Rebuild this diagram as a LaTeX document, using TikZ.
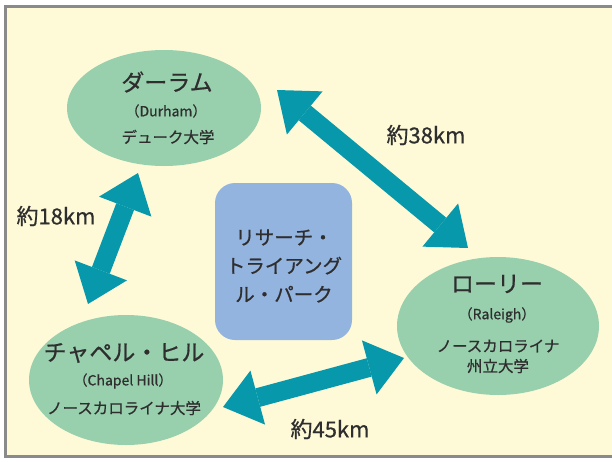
\documentclass[tikz,border=0pt]{standalone}
\usepackage{fontspec}
\setmainfont{Noto Sans CJK JP}[FakeBold=0.7]
\usetikzlibrary{arrows.meta,shapes.geometric}
\definecolor{bgcream}{HTML}{FEFAD8}
\definecolor{framegray}{HTML}{8A8A8A}
\definecolor{citygreen}{HTML}{98D0AE}
\definecolor{parkblue}{HTML}{94B4E0}
\definecolor{arrowteal}{HTML}{0799AB}
\definecolor{txt}{HTML}{2E2E2E}
\tikzset{
  city/.style={ellipse, fill=citygreen, inner sep=0pt},
  park/.style={rectangle, rounded corners=20pt, fill=parkblue, inner sep=0pt},
  bigname/.style={text=txt, font=\fontsize{23}{26}\selectfont, inner sep=0pt},
  smalltxt/.style={text=txt, font=\fontsize{15.5}{18}\selectfont, inner sep=0pt},
  latintxt/.style={text=txt, font=\fontsize{14}{16}\selectfont, inner sep=0pt},
  parktxt/.style={text=txt, font=\fontsize{19.5}{28.5}\selectfont, align=center, inner sep=0pt},
  disttxt/.style={text=txt, font=\fontsize{22}{24}\selectfont, inner sep=0pt},
  dist/.style={draw=arrowteal, line width=19pt,
    {Triangle[length=36pt,width=56pt,line width=0pt]}-{Triangle[length=36pt,width=56pt,line width=0pt]}}
}
\begin{document}
\begin{tikzpicture}[x=1pt,y=-1pt]
\clip (0,0) rectangle (612,461);
\fill[white] (0,0) rectangle (612,461);
\filldraw[fill=bgcream, draw=framegray, line width=2.5pt] (5.5,6.5) rectangle (630,456.5);

% cities
\node[city, minimum width=194pt, minimum height=116pt] (dur) at (164,108) {};
\node[city, minimum width=202pt, minimum height=138pt] (ral) at (498,326) {};
\node[city, minimum width=194pt, minimum height=130pt] (cha) at (126,380) {};
\node[park, minimum width=137pt, minimum height=157pt] (rtp) at (283.5,261.5) {};

% texts
\node[bigname] (durname) at (167,82) {ダーラム};
\node[latintxt] (durlat) at (166,111) {（Durham）};
\node[smalltxt] (duruni) at (168,137) {デューク大学};

\node[bigname] (ralname) at (497,284) {ローリー};
\node[latintxt] (rallat) at (497,315) {（Raleigh）};
\node[smalltxt] (raluni) at (498,346) {ノースカロライナ};
\node[smalltxt] (raluni2) at (498,366) {州立大学};

\node[bigname] (chaname) at (124,353) {チャペル・ヒル};
\node[latintxt] (chalat) at (123,381) {（Chapel Hill）};
\node[smalltxt] (chauni) at (124,408) {ノースカロライナ大学};

\node[parktxt] (rtptxt) at (284,266) {リサーチ・\\トライアング\\ル・パーク};

% arrows
\coordinate (a1s) at (277,90);
\coordinate (a1e) at (468,248);
\coordinate (a2s) at (138,173);
\coordinate (a2e) at (88,304);
\coordinate (a3s) at (223,407);
\coordinate (a3e) at (404,358);
\draw[dist] (a1s) -- (a1e);
\draw[dist] (a2s) -- (a2e);
\draw[dist] (a3s) -- (a3e);

\node[disttxt] (d38) at (426,135) {約38km};
\node[disttxt] (d18) at (56,216) {約18km};
\node[disttxt] (d45) at (330,429) {約45km};
\end{tikzpicture}
\end{document}
